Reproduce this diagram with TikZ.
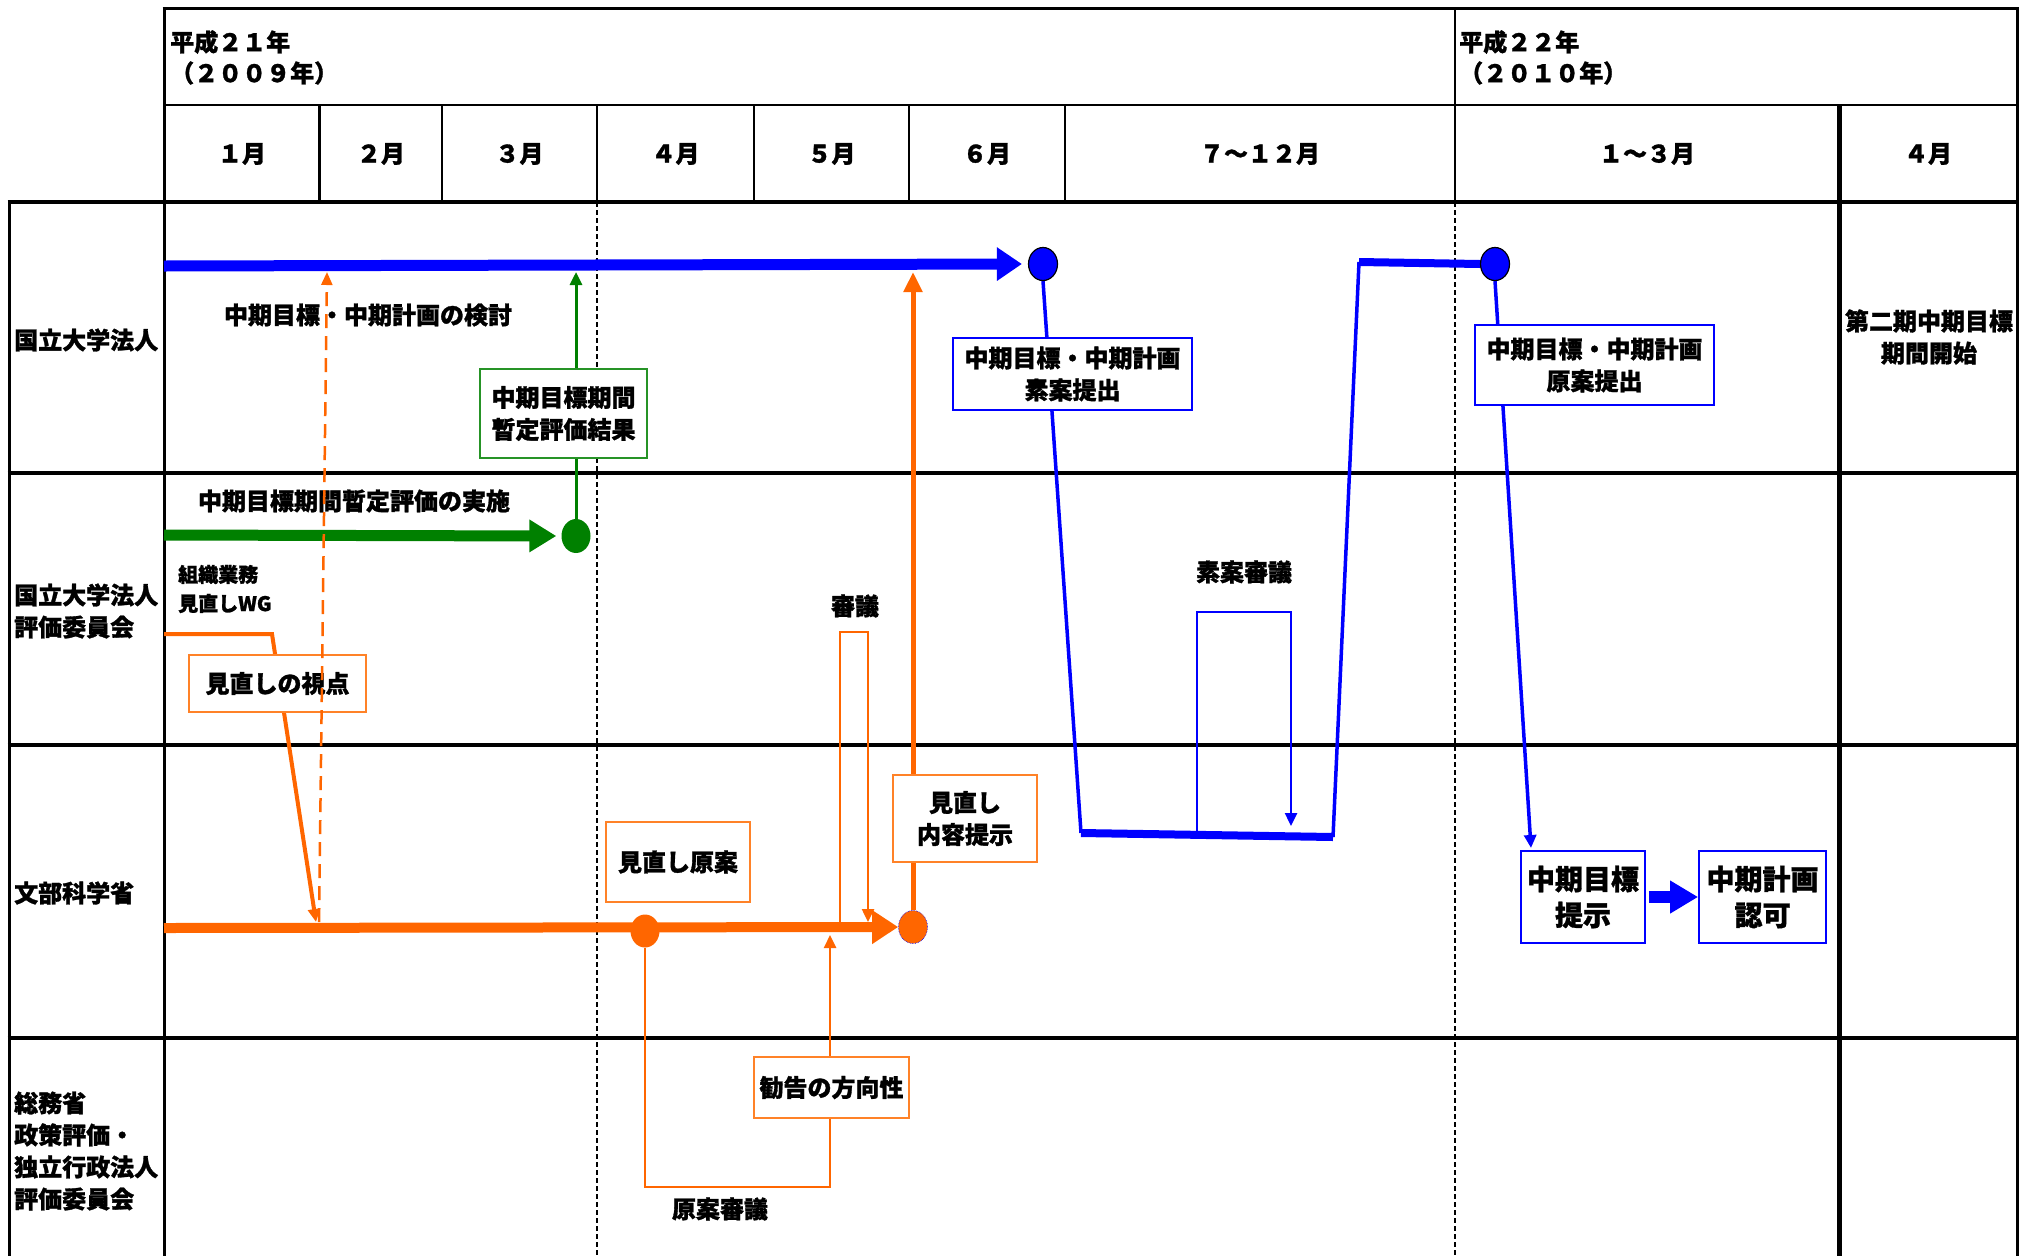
\documentclass[tikz,border=0pt]{standalone}
\usepackage{fontspec}
\setmainfont{Noto Sans CJK JP}[BoldFeatures={FakeBold=1.2}]
\usetikzlibrary{arrows.meta,shapes.geometric}
\pgfdeclarelayer{grid}
\pgfdeclarelayer{lines}
\pgfdeclarelayer{top}
\pgfsetlayers{grid,lines,main,top}
\definecolor{cblue}{RGB}{0,0,255}
\definecolor{cgreen}{RGB}{0,128,0}
\definecolor{corange}{RGB}{255,102,0}
\definecolor{corangebox}{RGB}{255,130,40}
\tikzset{
  txt/.style={font=\fontsize{24}{32}\selectfont\bfseries, inner sep=0pt, align=center},
  txtl/.style={txt, anchor=west, align=left},
  bbox/.style={draw=cblue, line width=1.8pt, fill=white, inner sep=0pt, align=center, font=\fontsize{24}{32}\selectfont\bfseries},
  obox/.style={bbox, draw=corangebox},
  gbox/.style={bbox, draw=cgreen!85!white},
  dot/.style={ellipse, inner sep=0pt, minimum width=29pt, minimum height=33pt},
  smallhead/.style={-{Triangle[length=13pt,width=12pt]}},
  dashline/.style={line width=1.5pt, dash pattern=on 5pt off 3pt},
}
\begin{document}
\begin{tikzpicture}[x=1pt,y=-1pt]
\useasboundingbox (0,0) rectangle (2033,1256);
\begin{pgfonlayer}{grid}
\fill[white] (0,0) rectangle (2033,1256);
\draw[line width=3pt] (162.5,8) -- (2018.5,8);
\draw[line width=2.5pt] (164,105) -- (2017,105);
\draw[line width=4pt] (7.5,202) -- (2018.5,202);
\foreach \yy in {473,745,1038} \draw[line width=4pt] (7.5,\yy) -- (2018.5,\yy);
\draw[line width=3pt] (9,202) -- (9,1256);
\draw[line width=3pt] (164,8) -- (164,1256);
\draw[line width=3pt] (2017,8) -- (2017,1256);
\draw[line width=5pt] (1839,105) -- (1839,1256);
\foreach \xx in {319.5,442,597,754,909,1065} \draw[line width=2.5pt] (\xx,105) -- (\xx,202);
\draw[line width=2.5pt] (1455,8) -- (1455,202);
\draw[dashline] (597,202) -- (597,1256);
\draw[dashline] (1455,202) -- (1455,1256);
\end{pgfonlayer}

% header texts
\node[txtl] (y1a) at (170,42) {平成２１年};
\node[txtl] (y1b) at (170,73) {（２００９年）};
\node[txtl] (y2a) at (1459,42) {平成２２年};
\node[txtl] (y2b) at (1459,73) {（２０１０年）};
\node[txt] (m1) at (242,154) {１月};
\node[txt] (m2) at (381,154) {２月};
\node[txt] (m3) at (519.5,154) {３月};
\node[txt] (m4) at (675.5,154) {４月};
\node[txt] (m5) at (831.5,154) {５月};
\node[txt] (m6) at (987,154) {６月};
\node[txt] (m7) at (1260,154) {７～１２月};
\node[txt] (m8) at (1647,154) {１～３月};
\node[txt] (m9) at (1928,154) {４月};

% row labels
\node[txtl] (r1) at (14,340) {国立大学法人};
\node[txtl] (r2) at (14,611) {国立大学法人\\評価委員会};
\node[txtl] (r3) at (14,893) {文部科学省};
\node[txtl] (r4) at (14,1151) {総務省\\政策評価・\\独立行政法人\\評価委員会};

% free texts
\node[txt] (kentou) at (368,315) {中期目標・中期計画の検討};
\node[txt] (jisshi) at (354,501) {中期目標期間暫定評価の実施};
\node[txtl, font=\fontsize{20}{29}\selectfont\bfseries] (wg) at (178,589) {組織業務\\見直しWG};
\node[txt] (shingi) at (855,606) {審議};
\node[txt] (soanshingi) at (1244,572) {素案審議};
\node[txt] (genanshingi) at (720,1209) {原案審議};
\node[txt] (daini) at (1929,337) {第二期中期目標\\期間開始};

% circles
\node[dot, fill=cblue, draw=black, line width=1.2pt] (bc1) at (1043,264) {};
\node[dot, fill=cblue, draw=black, line width=1.2pt] (bc2) at (1495,264) {};
\node[dot, fill=cgreen, minimum height=34pt] (gc) at (576,536) {};
\node[dot, fill=corange] (oc1) at (645,931) {};
\node[dot, fill=corange, draw=cblue, densely dotted, line width=0.6pt] (oc2) at (913,927) {};

% boxes
\node[gbox, minimum width=167pt, minimum height=89pt] (gres) at (563.5,413.5) {中期目標期間\\暫定評価結果};
\node[bbox, minimum width=239pt, minimum height=72pt] (soan) at (1072.5,374) {中期目標・中期計画\\素案提出};
\node[bbox, minimum width=239pt, minimum height=80pt] (genan) at (1594.5,365) {中期目標・中期計画\\原案提出};
\node[bbox, font=\fontsize{28}{36}\selectfont\bfseries, minimum width=124pt, minimum height=92pt] (teiji) at (1583,897) {中期目標\\提示};
\node[bbox, font=\fontsize{28}{36}\selectfont\bfseries, minimum width=127pt, minimum height=92pt] (ninka) at (1762.5,897) {中期計画\\認可};
\node[obox, minimum width=177pt, minimum height=57pt] (shiten) at (277.5,683.5) {見直しの視点};
\node[obox, minimum width=144pt, minimum height=80pt] (mgenan) at (678,862) {見直し原案};
\node[obox, minimum width=144pt, minimum height=87pt] (naiyou) at (965,818.5) {見直し\\内容提示};
\node[obox, minimum width=155pt, minimum height=61pt] (kankoku) at (831.5,1087.5) {勧告の方向性};

% coordinates
\coordinate (bs) at (164,266);
\coordinate (gs) at (164,535);
\coordinate (os) at (164,928);
\coordinate (gtop) at (574,272);
\coordinate (b1) at (1081,833);
\coordinate (b2) at (1333,837);
\coordinate (b3) at (1359,262);
\coordinate (tt) at (1531,848);
\coordinate (sa1) at (1197,833);
\coordinate (sa2) at (1197,612);
\coordinate (sa3) at (1291,612);
\coordinate (sa4) at (1291,826);
\coordinate (sg1) at (840,924);
\coordinate (sg2) at (840,632);
\coordinate (sg3) at (868,632);
\coordinate (sg4) at (868,922);
\coordinate (ra1) at (642,1187);
\coordinate (ra2) at (830,1187);
\coordinate (ra3) at (830,935);
\coordinate (w0) at (164,634);
\coordinate (w1) at (272,634);
\coordinate (w2) at (316,922);
\coordinate (d0) at (319,922);
\coordinate (d1) at (327,272);

\begin{pgfonlayer}{lines}
% blue
\draw[cblue, line width=11pt, -{Triangle[length=25pt,width=32pt]}] (bs) -- ([xshift=-6pt]bc1.west);
\draw[cblue, line width=3.5pt] (bc1.south) -- (b1);
\draw[cblue, line width=8pt] (b1) -- (b2);
\draw[cblue, line width=3.5pt] (b2) -- (b3);
\draw[cblue, line width=8pt] (b3) -- (bc2.west);
\draw[cblue, line width=3.5pt, smallhead] (bc2.south) -- (tt);
\draw[cblue, line width=2.5pt, smallhead] (sa1) -- (sa2) -- (sa3) -- (sa4);
% green
\draw[cgreen, line width=11pt, -{Triangle[length=27pt,width=31pt]}] (gs) -- ([xshift=-5pt]gc.west);
\draw[cgreen, line width=3pt, smallhead] (gc.north) -- (gc.north |- gtop);
% orange
\draw[corange, line width=10pt, -{Triangle[length=26pt,width=32pt]}] (os) -- (oc2.west);
\draw[corange, line width=5pt, -{Triangle[length=20pt,width=18pt]}] (oc2.north) -- (oc2.north |- gtop);
\draw[corange, line width=2.5pt, smallhead] (sg1) -- (sg2) -- (sg3) -- (sg4);
\draw[corange, line width=2.5pt, smallhead] (oc1.south) -- (oc1.south |- ra1) -- (ra2) -- (ra3);
\draw[corange, line width=4pt, smallhead] (w0) -- (w1) -- (w2);
\end{pgfonlayer}

\begin{pgfonlayer}{top}
\draw[cblue, line width=12pt, -{Triangle[length=28pt,width=31pt]}, shorten <=3pt] (teiji.east) -- (ninka.west);
\draw[corange, line width=2.5pt, dash pattern=on 14pt off 8pt, -{Triangle[length=13pt,width=11pt]}] (d0) -- (d1);
\end{pgfonlayer}
\end{tikzpicture}
\end{document}
